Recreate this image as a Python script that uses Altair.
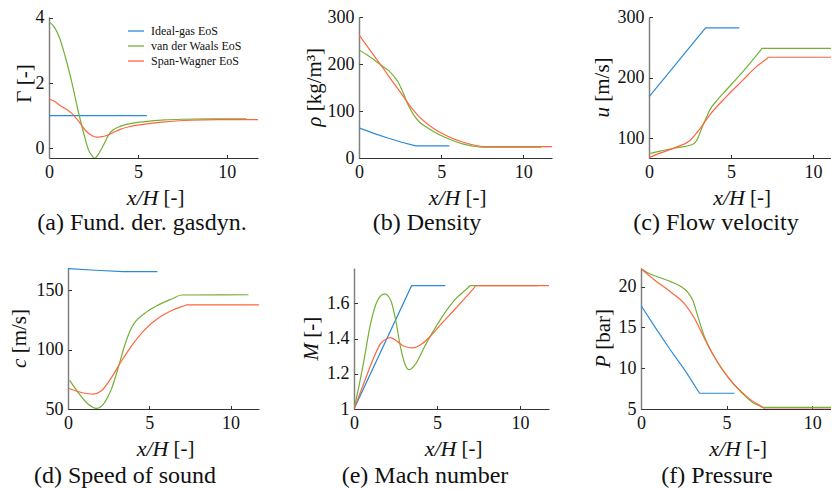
import altair as alt
import pandas as pd

SERIES = ["Ideal-gas EoS", "van der Waals EoS", "Span-Wagner EoS"]
COLORS = ["#2B8AD6", "#74B035", "#FF6640"]
FONT = "Liberation Serif"
TXT = "#111111"
H = 141
XTICKS = [0, 5, 10]
TSIZE = 21  # axis-title font size

# ---------------- (a) Fundamental derivative of gasdynamics ----------------
a_x_ideal = [0.0, 5.5]
a_y_ideal = [1.0, 1.0]
a_x_vdw = [0.0, 0.3, 0.6, 0.9, 1.28, 1.65, 2.03, 2.22, 2.4, 2.56, 2.78, 2.97, 3.16, 3.35, 3.6, 4.0, 4.5, 5.4, 6.5, 7.5, 9.0, 11.1]
a_y_vdw = [3.88, 3.72, 3.38, 2.84, 2.03, 1.12, 0.30, -0.05, -0.22, -0.31, -0.18, 0.0, 0.2, 0.41, 0.56, 0.67, 0.75, 0.82, 0.87, 0.89, 0.9, 0.9]
a_x_sw = [0.0, 0.3, 0.7, 1.0, 1.28, 1.65, 2.03, 2.4, 2.69, 2.9, 3.25, 3.53, 4.0, 4.5, 5.4, 6.5, 8.0, 9.5, 11.75]
a_y_sw = [1.52, 1.44, 1.28, 1.19, 1.07, 0.84, 0.56, 0.39, 0.34, 0.35, 0.39, 0.46, 0.58, 0.66, 0.74, 0.81, 0.86, 0.88, 0.88]

# ---------------- (b) Density ----------------
b_x_ideal = [0.0, 0.9, 1.75, 2.6, 3.45, 5.5]
b_y_ideal = [64, 52.5, 42.5, 33.5, 26, 26]
b_x_vdw = [0.0, 0.5, 1.07, 1.47, 1.8, 2.08, 2.3, 2.48, 2.7, 2.88, 3.08, 3.29, 3.69, 4.1, 4.5, 5.3, 6.3, 7.1, 7.4, 11.1]
b_y_vdw = [230, 219, 205, 194, 186, 176, 166, 155, 138, 122, 107, 94, 76, 66, 57, 43, 30, 24.5, 23, 23]
b_x_sw = [0.0, 0.87, 1.47, 2.08, 2.68, 3.08, 3.69, 4.5, 5.3, 6.3, 7.3, 7.6, 11.75]
b_y_sw = [262, 220, 191, 161, 132, 112, 87, 64, 48, 34, 25.5, 24, 24]

# ---------------- (c) Flow velocity ----------------
c_x_ideal = [0.0, 3.45, 5.5]
c_y_ideal = [168, 282, 282]
c_x_vdw = [0.0, 0.67, 1.68, 2.5, 2.8, 3.0, 3.2, 3.45, 3.7, 4.2, 4.7, 5.74, 6.8, 6.9, 11.1]
c_y_vdw = [74, 78.5, 84, 88, 92, 101, 115, 131, 146, 164, 179, 210, 244.7, 248, 248]
c_x_sw = [0.0, 0.67, 1.68, 2.5, 3.1, 3.7, 4.7, 5.74, 6.55, 7.2, 7.3, 11.75]
c_y_sw = [67.5, 75, 85, 96, 115, 138, 168, 196, 218, 231.4, 233.5, 233.5]

# ---------------- (d) Speed of sound ----------------
d_x_ideal = [0.0, 1.7, 3.4, 5.5]
d_y_ideal = [168, 166.6, 165.5, 165.5]
d_x_vdw = [0.1, 0.62, 1.23, 1.75, 2.26, 2.67, 3.09, 3.5, 3.9, 4.73, 5.56, 6.38, 7.0, 11.1]
d_y_vdw = [74, 64, 54.2, 50.5, 55.6, 66.7, 84.7, 104, 118, 130.5, 137.5, 142.5, 145.8, 146]
d_x_sw = [0.05, 0.82, 1.54, 2.06, 2.67, 3.29, 3.9, 4.73, 5.56, 6.38, 7.2, 7.3, 11.75]
d_y_sw = [67.2, 63.9, 62.5, 65.3, 76.4, 90.3, 102.8, 116.7, 126.4, 132.8, 137.0, 137.5, 137.5]

# ---------------- (e) Mach number ----------------
e_x_ideal = [0.0, 3.47, 5.5]
e_y_ideal = [1.0, 1.70, 1.70]
e_x_vdw = [0.0, 0.3, 0.57, 0.98, 1.39, 1.84, 2.2, 2.51, 2.8, 3.06, 3.33, 3.73, 4.24, 5.06, 6.08, 6.9, 7.0, 11.1]
e_y_vdw = [1.0, 1.13, 1.26, 1.476, 1.61, 1.653, 1.62, 1.505, 1.352, 1.257, 1.223, 1.257, 1.352, 1.486, 1.62, 1.691, 1.70, 1.70]
e_x_sw = [0.0, 0.57, 1.18, 1.59, 2.0, 2.2, 2.51, 3.02, 3.53, 4.04, 4.65, 5.27, 6.08, 6.9, 7.25, 7.35, 11.75]
e_y_sw = [1.0, 1.14, 1.29, 1.37, 1.40, 1.405, 1.39, 1.356, 1.347, 1.366, 1.417, 1.484, 1.566, 1.652, 1.689, 1.70, 1.70]

# ---------------- (f) Pressure ----------------
f_x_ideal = [0.0, 0.8, 1.7, 2.6, 3.42, 5.47]
f_y_ideal = [17.7, 15.1, 12.3, 9.65, 6.93, 6.93]
f_x_vdw = [0.0, 0.5, 0.99, 1.77, 2.35, 2.74, 3.03, 3.33, 3.72, 4.3, 5.08, 5.86, 6.6, 7.0, 7.1, 11.1]
f_y_vdw = [22.2, 21.6, 21.2, 20.6, 20.0, 19.3, 18.3, 16.3, 13.8, 11.35, 8.9, 7.05, 5.7, 5.3, 5.2, 5.2]
f_x_sw = [0.0, 0.8, 1.77, 2.55, 3.13, 3.72, 4.3, 5.08, 6.25, 7.15, 7.25, 11.75]
f_y_sw = [22.2, 20.8, 19.3, 17.9, 16.1, 13.6, 11.35, 8.9, 6.4, 5.14, 5.0, 5.0]


def make_df(xi, yi, xv, yv, xs, ys):
    rows = []
    for name, xx, yy in zip(SERIES, [xi, xv, xs], [yi, yv, ys]):
        for a, b in zip(xx, yy):
            rows.append({"x": a, "y": b, "series": name})
    return pd.DataFrame(rows)


def text_layer(t, x, y, size, italic=False, align="center", angle=0):
    kw = dict(font=FONT, fontSize=size, align=align, baseline="middle", color=TXT)
    if italic:
        kw["fontStyle"] = "italic"
    if angle:
        kw["angle"] = angle
    return alt.Chart(pd.DataFrame({"t": [t]})).mark_text(**kw).encode(
        text="t:N", x=alt.value(x), y=alt.value(y))


def y_title_layers(var, var_w, unit, unit_w, tx, italic=True):
    # rotated title centred on the plot: italic symbol at the bottom, unit above
    gap = 0.25 * TSIZE
    total = var_w * TSIZE + gap + unit_w * TSIZE
    bottom = H / 2 + total / 2
    top_of_var = bottom - var_w * TSIZE
    return [
        text_layer(var, tx, top_of_var, TSIZE, italic=italic, align="right", angle=270),
        text_layer(unit, tx, top_of_var - gap, TSIZE, align="left", angle=270),
    ]


def panel(df, width, xmax, ydom, yticks, ytitle, caption, cap_x, cap_y, legend=None):
    xs = alt.Scale(domain=[0, xmax], nice=False, zero=False)
    ys = alt.Scale(domain=ydom, nice=False, zero=False)
    color = alt.Color("series:N", scale=alt.Scale(domain=SERIES, range=COLORS), legend=legend)
    x_main = alt.X("x:Q", scale=xs, axis=alt.Axis(
        values=XTICKS, format="~r", title=None,
        ticks=False, tickSize=0, labelPadding=5, labelFlush=False, grid=False,
        domainColor="#333333", domainWidth=1))
    y_main = alt.Y("y:Q", scale=ys, axis=alt.Axis(
        values=yticks, format="~r", title=None,
        ticks=False, tickSize=0, labelPadding=5, grid=False,
        domainColor="#808080", domainWidth=1.5))
    x_none = alt.X("x:Q", scale=xs, axis=None)
    y_none = alt.Y("y:Q", scale=ys, axis=None)
    base = alt.Chart(df)
    ideal = base.transform_filter(alt.datum.series == SERIES[0]).mark_line(
        clip=True, strokeWidth=1.2).encode(x=x_main, y=y_main, color=color)
    real = base.transform_filter(alt.datum.series != SERIES[0]).mark_line(
        clip=True, strokeWidth=1.2, interpolate="monotone").encode(x=x_none, y=y_none, color=color)
    tick_layer = base.mark_line(clip=True, strokeOpacity=0).encode(
        x=alt.X("x:Q", scale=xs, axis=alt.Axis(
            orient="top", offset=-H, values=XTICKS, labels=False, domain=False,
            ticks=True, tickSize=3.5, tickColor="#333333", tickWidth=1, grid=False, title=None)),
        y=alt.Y("y:Q", scale=ys, axis=alt.Axis(
            orient="right", offset=-width, values=yticks, labels=False, domain=False,
            ticks=True, tickSize=3.5, tickColor="#333333", tickWidth=1, grid=False, title=None)),
        detail="series:N")
    cx = width / 2
    x_title = [
        text_layer("x/H", cx + 5, H + 40, 22, italic=True, align="right"),
        text_layer("[-]", cx + 10, H + 40, TSIZE, align="left"),
    ]
    cap = text_layer(caption, cap_x, cap_y, 24)
    return alt.layer(ideal, real, tick_layer, *x_title, *ytitle, cap).resolve_axis(
        x="independent", y="independent").properties(width=width, height=H)


def spacer(w):
    return alt.Chart(pd.DataFrame({"v": [0]})).mark_point(opacity=0, size=1).encode(
        x=alt.value(w / 2), y=alt.value(H / 2)).properties(width=w, height=H)


legend_a = alt.Legend(orient="none", legendX=130, legendY=8, title=None,
                      symbolType="M-2,0H2", symbolSize=64, symbolStrokeWidth=1.3,
                      labelFont=FONT, labelFontSize=12, labelOffset=9, rowPadding=3,
                      padding=0, labelColor=TXT)

ta = [text_layer("Γ [-]", -24, H / 2 - 4, TSIZE, angle=270)]
tb = y_title_layers("ρ", 0.5, "[kg/m³]", 3.02, -44)
tc = y_title_layers("u", 0.5, "[m/s]", 2.11, -46)
td = y_title_layers("c", 0.444, "[m/s]", 2.11, -48)
te = y_title_layers("M", 0.833, "[-]", 1.0, -42)
tf = y_title_layers("P", 0.611, "[bar]", 1.943, -37)

pa = panel(make_df(a_x_ideal, a_y_ideal, a_x_vdw, a_y_vdw, a_x_sw, a_y_sw), 209, 11.75,
           [-0.3, 4.03], [0, 2, 4], ta, "(a) Fund. der. gasdyn.", 93, 206, legend_a)
pb = panel(make_df(b_x_ideal, b_y_ideal, b_x_vdw, b_y_vdw, b_x_sw, b_y_sw), 193, 11.75,
           [0, 300], [0, 100, 200, 300], tb, "(b) Density", 68, 206)
pc = panel(make_df(c_x_ideal, c_y_ideal, c_x_vdw, c_y_vdw, c_x_sw, c_y_sw), 182, 11.1,
           [67, 300], [100, 200, 300], tc, "(c) Flow velocity", 67, 206)
pd_ = panel(make_df(d_x_ideal, d_y_ideal, d_x_vdw, d_y_vdw, d_x_sw, d_y_sw), 191, 11.75,
            [50, 168.5], [50, 100, 150], td, "(d) Speed of sound", 57, 208)
pe = panel(make_df(e_x_ideal, e_y_ideal, e_x_vdw, e_y_vdw, e_x_sw, e_y_sw), 195, 11.75,
           [1, 1.8], [1, 1.2, 1.4, 1.6], te, "(e) Mach number", 71, 208)
pf = panel(make_df(f_x_ideal, f_y_ideal, f_x_vdw, f_y_vdw, f_x_sw, f_y_sw), 190, 11.1,
           [5, 22.3], [5, 10, 15, 20], tf, "(f) Pressure", 76, 208)

row1 = alt.hconcat(spacer(49), pa, spacer(101), pb, spacer(97), pc, spacing=0, bounds="flush")
row2 = alt.hconcat(spacer(68), pd_, spacer(95), pe, spacer(92), pf, spacing=0, bounds="flush")

chart = alt.vconcat(row1, row2, spacing=33).properties(
    padding={"left": 0, "top": 8, "right": 0, "bottom": 0}
).configure_view(stroke=None).configure_axis(
    labelFont=FONT, labelFontSize=18, labelColor=TXT
)

chart.save("out.html", embed_options={"renderer": "svg", "actions": False})
